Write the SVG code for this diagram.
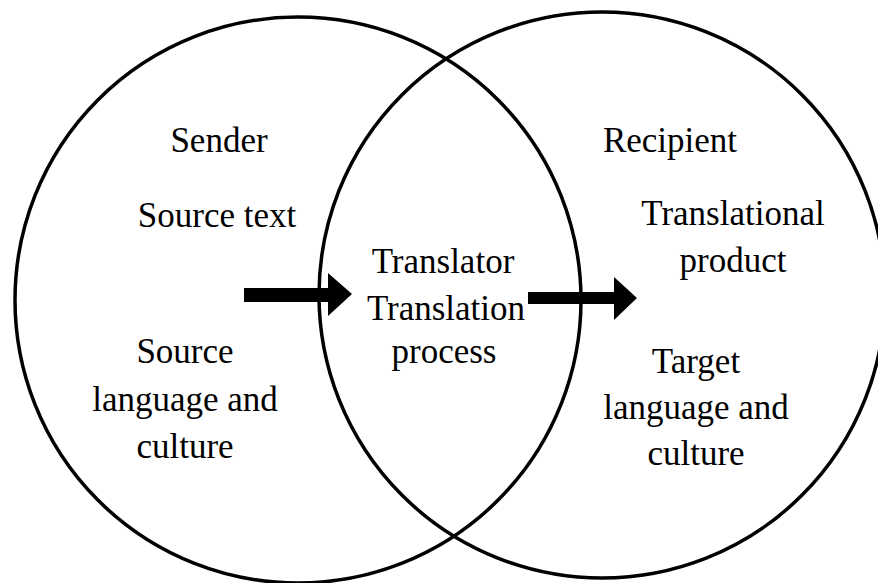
<svg xmlns="http://www.w3.org/2000/svg" width="878" height="583" viewBox="0 0 878 583">
<style>
.c{fill:none;stroke:#000;stroke-width:3.5}
.t{font-family:"Liberation Serif","Times New Roman",serif;font-size:35px;fill:#000;text-anchor:middle}
.a{fill:#000}
</style>
<rect width="878" height="583" fill="#fff"/>
<g id="sender-circle">
<circle class="c" cx="298" cy="300" r="283"/>
<text class="t" x="219" y="152">Sender</text>
<text class="t" x="217" y="227">Source text</text>
<text class="t" x="185" y="363">Source</text>
<text class="t" x="185" y="411">language and</text>
<text class="t" x="185" y="458">culture</text>
</g>
<g id="recipient-circle">
<circle class="c" cx="602" cy="295" r="283"/>
<text class="t" x="670" y="152">Recipient</text>
<text class="t" x="733" y="225">Translational</text>
<text class="t" x="733" y="272">product</text>
<text class="t" x="696" y="373">Target</text>
<text class="t" x="696" y="419">language and</text>
<text class="t" x="696" y="465">culture</text>
</g>
<g id="translator">
<text class="t" x="443" y="273">Translator</text>
<text class="t" x="446" y="320">Translation</text>
<text class="t" x="444" y="363">process</text>
</g>
<g id="connectors">
<polygon class="a" points="244,288 328,288 328,273 352,294 328,316 328,302 244,302"/>
<polygon class="a" points="528,292 614,292 614,277 637,298 614,320 614,304 528,304"/>
</g>
</svg>
